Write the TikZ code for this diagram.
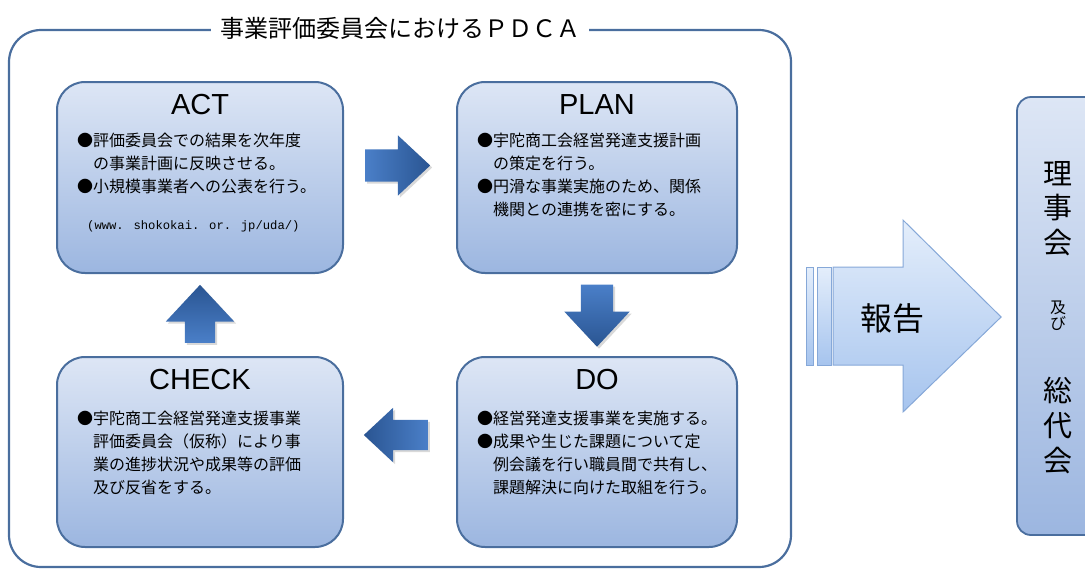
\documentclass[tikz,border=0pt]{standalone}
\usepackage{fontspec}
\setmainfont{Liberation Sans}
\newfontfamily\jp{Noto Sans CJK JP}
\newfontfamily\monof{Liberation Mono}
\usetikzlibrary{shapes.arrows,shadows,calc}
\definecolor{boxedge}{HTML}{4A6E9E}
\definecolor{boxtop}{HTML}{DDE6F5}
\definecolor{boxbot}{HTML}{9CB6E0}
\definecolor{arrA}{HTML}{4A7FC8}
\definecolor{arrB}{HTML}{2A5592}
\definecolor{reptop}{HTML}{E4EEFB}
\definecolor{repbot}{HTML}{A6C4EE}
\definecolor{repedge}{HTML}{86A8D8}
\begin{document}
\begin{tikzpicture}[x=1pt,y=-1pt,
  pbox/.style={draw=boxedge, line width=2pt, rounded corners=28pt,
    top color=boxtop, bottom color=boxbot, minimum width=286pt,
    minimum height=191pt, inner sep=0pt},
  ptitle/.style={font=\fontsize{29}{29}\selectfont, inner sep=0pt},
  pbody/.style={font=\jp\fontsize{16}{23}\selectfont, align=left,
    anchor=north west, inner sep=0pt},
  blk/.style={single arrow, single arrow tip angle=86, draw=none,
    drop shadow={shadow xshift=2pt, shadow yshift=-2pt, opacity=0.3}},
  vchar/.style={anchor=base, inner sep=0pt}
]
\useasboundingbox (0,0) rectangle (1085,571);
\clip (0,0) rectangle (1085,571);

% outer frame
\draw[draw=boxedge, line width=2.2pt, rounded corners=32pt] (9,30) rectangle (791,567);
\node[fill=white, inner xsep=9pt, inner ysep=2pt, font=\jp\fontsize{24}{24}\selectfont] (title) at (400,28) {事業評価委員会におけるＰＤＣＡ};

% PDCA boxes
\node[pbox] (act) at (200,177.5) {};
\node[pbox, minimum width=280pt] (plan) at (597,177.5) {};
\node[pbox, minimum height=190pt] (check) at (200,452) {};
\node[pbox, minimum width=280pt, minimum height=190pt] (do) at (597,452) {};

\node[ptitle] (actT) at ($(act.north)+(0,24)$) {ACT};
\node[ptitle] (planT) at ($(plan.north)+(0,24)$) {PLAN};
\node[ptitle] (checkT) at ($(check.north)+(0,24)$) {CHECK};
\node[ptitle] (doT) at ($(do.north)+(0,24)$) {DO};

\node[pbody] (actB) at ($(act.north west)+(21,52)$)
  {●評価委員会での結果を次年度\\\hspace{1em}の事業計画に反映させる。\\●小規模事業者への公表を行う。};
\node[anchor=west, inner sep=0pt, font=\monof\fontsize{12.2}{14}\selectfont] (actU) at ($(act.north west)+(31,145)$)
  {(www. shokokai. or. jp/uda/)};
\node[pbody] (planB) at ($(plan.north west)+(21,52)$)
  {●宇陀商工会経営発達支援計画\\\hspace{1em}の策定を行う。\\●円滑な事業実施のため、関係\\\hspace{1em}機関との連携を密にする。};
\node[pbody] (checkB) at ($(check.north west)+(21,55)$)
  {●宇陀商工会経営発達支援事業\\\hspace{1em}評価委員会（仮称）により事\\\hspace{1em}業の進捗状況や成果等の評価\\\hspace{1em}及び反省をする。};
\node[pbody] (doB) at ($(do.north west)+(21,55)$)
  {●経営発達支援事業を実施する。\\●成果や生じた課題について定\\\hspace{1em}例会議を行い職員間で共有し、\\\hspace{1em}課題解決に向けた取組を行う。};

% block arrows between boxes
\node[blk, inner sep=16pt, single arrow head extend=14pt, minimum height=65pt, left color=arrA, right color=arrB]
  (a1) at ($(act.east)!0.5!(plan.west)+(-11,-12)$) {};
\node[blk, inner sep=16pt, single arrow head extend=16.5pt, minimum height=62pt, shape border rotate=270, top color=arrA, bottom color=arrB]
  (a2) at ($(plan.south)!0.5!(do.north)+(0,-8)$) {};
\node[blk, inner sep=15pt, single arrow head extend=12pt, minimum height=64pt, shape border rotate=180, right color=arrA, left color=arrB]
  (a3) at ($(do.west)!0.5!(check.east)+(4,-17)$) {};
\node[blk, inner sep=15pt, single arrow head extend=19pt, minimum height=58pt, shape border rotate=90, bottom color=arrA, top color=arrB]
  (a4) at ($(check.north)!0.5!(act.south)+(0,7)$) {};

% board box on the right
\node[draw=boxedge, line width=1.8pt, rounded corners=14pt, top color=boxtop, bottom color=boxbot,
  minimum width=92pt, minimum height=438pt, inner sep=0pt] (board) at (1063,316) {};
\foreach \c/\yy/\s [count=\i] in {理/184/29, 事/218/29, 会/253/29, 及/313/16, び/329/16, 総/401/29, 代/436/29, 会/471/29}
  \node[vchar, font=\jp\fontsize{\s}{\s}\selectfont] (v\i) at (1058,\yy) {\c};

% report arrow
\coordinate (rs) at (806,316);
\draw[draw=repedge, line width=1pt, top color=reptop, bottom color=repbot]
  (833,267) -- (903,267) -- (903,220) -- ($(board.west)+(-15,1)$) -- (903,412) -- (903,365) -- (833,365) -- cycle;
\draw[draw=repedge, line width=1pt, top color=reptop, bottom color=repbot]
  ($(rs)+(0,-49)$) rectangle ($(rs)+(7,49)$);
\draw[draw=repedge, line width=1pt, top color=reptop, bottom color=repbot]
  ($(rs)+(11,-49)$) rectangle ($(rs)+(25,49)$);
\node[font=\jp\fontsize{32}{32}\selectfont, inner sep=0pt] (rep) at (892,318) {報告};
\end{tikzpicture}
\end{document}
